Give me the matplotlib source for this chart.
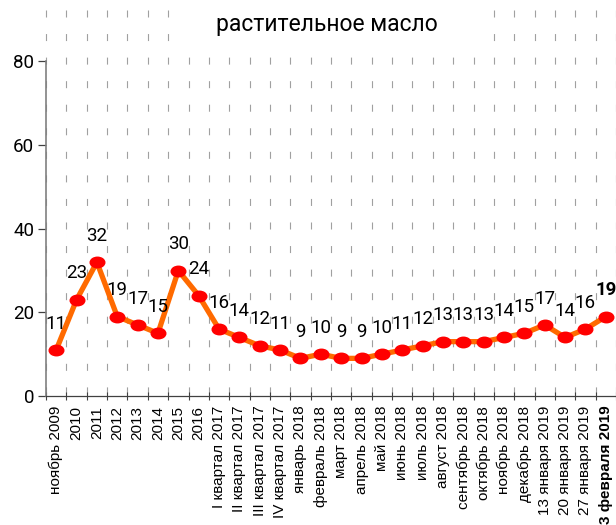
import numpy as np
import matplotlib
matplotlib.use("Agg")
import matplotlib.pyplot as plt
from matplotlib.path import Path
from matplotlib.patches import Rectangle

categories = [
    "ноябрь 2009", "2010", "2011", "2012", "2013", "2014", "2015", "2016",
    "I квартал 2017", "II квартал 2017", "III квартал 2017", "IV квартал 2017",
    "январь 2018", "февраль 2018", "март 2018", "апрель 2018", "май 2018",
    "июнь 2018", "июль 2018", "август 2018", "сентябрь 2018", "октябрь 2018",
    "ноябрь 2018", "декабрь 2018", "13 января 2019", "20 января 2019",
    "27 января 2019", "3 февраля 2019",
]
values = [11, 23, 32, 19, 17, 15, 30, 24, 16, 14, 12, 11,
          9, 10, 9, 9, 10, 11, 12, 13, 13, 13, 14, 15, 17, 14, 16, 19]
yticks = [0, 20, 40, 60, 80]
title = "растительное масло"

NARROW = ["Roboto", "DejaVu Sans"]
REG = ["Liberation Sans", "DejaVu Sans"]

W, H = 616, 525
fig = plt.figure(figsize=(W / 100, H / 100), dpi=100)
ax = fig.add_axes([46 / W, (H - 396) / H, (W - 46) / W, 386 / H])

x = np.arange(len(values))
ax.set_xlim(-0.5, len(values) - 0.5)
ax.set_ylim(0, 92.3)

# dashed vertical grid at category boundaries
for b in np.arange(-0.5, len(values), 1.0):
    ax.plot([b, b], [92.3, 0], color="#a0a0a0", lw=0.8,
            dashes=(6.3, 14.9), zorder=1, clip_on=False)

# ellipse marker
circ = Path.unit_circle()
ell = Path(circ.vertices * np.array([1.0, 0.72]), circ.codes)

ax.plot(x, values, color="#ff6a00", lw=3.8, zorder=3, solid_capstyle="round")
ax.plot(x, values, linestyle="none", marker=ell, markersize=10.5,
        markerfacecolor="#ff0000", markeredgecolor="#ff0000", zorder=4)

for i, v in enumerate(values):
    last = i == len(values) - 1
    ax.annotate(str(v), (i, v), xytext=(0, 19), textcoords="offset points",
                ha="center", va="center", fontsize=13.5, family=NARROW,
                fontweight="bold" if last else "normal", zorder=5,
                annotation_clip=False)

for s in ["top", "right"]:
    ax.spines[s].set_visible(False)
ax.spines["left"].set_bounds(0, 80)
ax.spines["left"].set_color("#808080")
ax.spines["left"].set_linewidth(1.2)
ax.spines["bottom"].set_color("#404040")
ax.spines["bottom"].set_linewidth(0.9)

ax.set_yticks(yticks)
ax.set_yticklabels([str(t) for t in yticks], family=NARROW, fontsize=13.5)
ax.tick_params(axis="y", length=5.5, width=0.9, color="#404040", pad=3)

ax.set_xticks(np.arange(-0.5, len(values) - 0.4, 1.0), minor=False)
ax.set_xticklabels([])
ax.set_xticks(x, minor=True)
ax.set_xticklabels(categories, minor=True, rotation=90, family=REG, fontsize=11)
ax.tick_params(axis="x", which="major", direction="inout", length=6,
               width=0.8, color="#404040")
ax.tick_params(axis="x", which="minor", length=0, pad=7)
ax.get_xticklabels(minor=True)[-1].set_fontweight("bold")

# title with white backing box over grid
fig.patches.append(Rectangle((175 / W, 1 - 46 / H), 312 / W, 43 / H,
                             transform=fig.transFigure, facecolor="white",
                             edgecolor="none", zorder=10))
fig.text(327 / W, 1 - 25 / H, title, ha="center", va="center",
         fontsize=16.5, family=NARROW, zorder=11)

fig.savefig("out.png", dpi=100)
